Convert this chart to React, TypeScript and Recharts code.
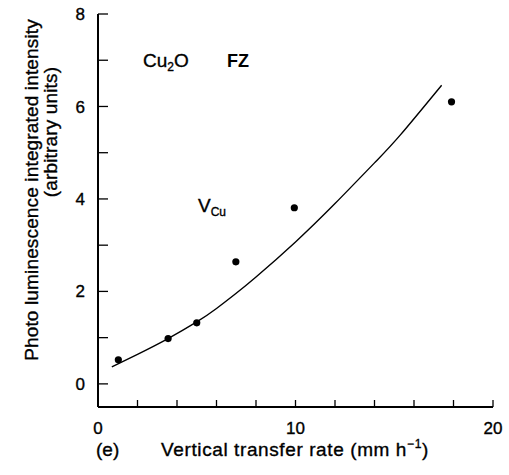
import { ComposedChart, Line, Scatter, XAxis, YAxis } from "recharts";

// fitted curve
const fitRate = [0.7, 2, 3.5, 5, 6, 7, 8, 10, 12, 14, 15.3, 17.4];
const fitIntensity = [0.37, 0.64, 0.97, 1.34, 1.63, 1.96, 2.31, 3.07, 3.9, 4.78, 5.38, 6.46];

// measured points
const measRate = [1.03, 3.55, 5.0, 6.98, 9.94, 17.9];
const measIntensity = [0.52, 0.98, 1.32, 2.64, 3.81, 6.1];

const xTicks = [0, 2, 4, 6, 8, 10, 12, 14, 16, 18, 20];
const xLabels = [0, 10, 20];
const yTicks = [0, 1, 2, 3, 4, 5, 6, 7, 8];
const yLabels = [0, 2, 4, 6, 8];

const fitData = fitRate.map((x, i) => ({ x, y: fitIntensity[i] }));
const measData = measRate.map((x, i) => ({ x, y: measIntensity[i] }));

const W = 509;
const H = 475;
const M = { top: 14, right: 16, bottom: 23, left: 0 };
const Y_AXIS_W = 98;
const X_AXIS_H = 45;

const FONT = "'Liberation Sans', Arial, sans-serif";
const tickStyle = { fontSize: 17, fill: "#000", stroke: "#000", strokeWidth: 0.35, fontFamily: FONT };
const tickLine = { stroke: "#000", strokeWidth: 1.3 };
const axisLine = { stroke: "#000", strokeWidth: 2 };
const heavy = { fill: "#000", stroke: "#000", strokeWidth: 0.35 };

export default function App() {
  return (
    <div style={{ position: "absolute", left: 0, top: 0, width: W, height: H, background: "#fff" }}>
      <ComposedChart width={W} height={H} margin={M}>
        <XAxis
          type="number"
          dataKey="x"
          domain={[0, 20]}
          ticks={xTicks}
          height={X_AXIS_H}
          tickSize={-7}
          tickMargin={22}
          tick={tickStyle}
          tickFormatter={(v) => (xLabels.includes(v) ? String(v) : "")}
          stroke="#000"
          axisLine={axisLine}
          tickLine={tickLine}
        />
        <XAxis
          xAxisId="top"
          orientation="top"
          type="number"
          domain={[0, 20]}
          ticks={xTicks}
          height={0}
          tickSize={-5}
          tick={false}
          stroke="#000"
          axisLine={axisLine}
          tickLine={tickLine}
        />
        <YAxis
          type="number"
          domain={[-0.5, 8]}
          ticks={yTicks}
          width={Y_AXIS_W}
          tickSize={-10}
          tickMargin={23}
          tick={tickStyle}
          tickFormatter={(v) => (yLabels.includes(v) ? String(v) : "")}
          stroke="#000"
          axisLine={axisLine}
          tickLine={tickLine}
        />
        <YAxis
          yAxisId="right"
          orientation="right"
          type="number"
          domain={[-0.5, 8]}
          ticks={yTicks}
          width={0}
          tickSize={-11}
          tick={false}
          stroke="#000"
          axisLine={axisLine}
          tickLine={tickLine}
        />
        <Line
          data={fitData}
          dataKey="y"
          type="natural"
          stroke="#000"
          strokeWidth={1.4}
          dot={false}
          activeDot={false}
          isAnimationActive={false}
        />
        <Scatter
          data={measData}
          dataKey="y"
          fill="#000"
          shape={(p: any) => <circle cx={p.cx} cy={p.cy} r={3.6} fill="#000" />}
          isAnimationActive={false}
        />
      </ComposedChart>
      <svg
        width={W}
        height={H}
        style={{ position: "absolute", left: 0, top: 0, pointerEvents: "none" }}
        fontFamily={FONT}
      >
        <text
          transform="translate(38,190) rotate(-90)"
          textAnchor="middle"
          fontSize={19}
          letterSpacing={0.15}
          {...heavy}
        >
          Photo luminescence integrated intensity
        </text>
        <text
          transform="translate(57,132) rotate(-90)"
          textAnchor="middle"
          fontSize={19}
          letterSpacing={0.15}
          {...heavy}
        >
          (arbitrary units)
        </text>
        <text x={96} y={456} fontSize={19} {...heavy}>(e)</text>
        <text x={295} y={456} textAnchor="middle" fontSize={19} letterSpacing={0.6} {...heavy}>
          Vertical transfer rate (mm h
          <tspan fontSize={12} dy={-8}>−1</tspan>
          <tspan dy={8}>)</tspan>
        </text>
        <text x={143} y={67} fontSize={19} {...heavy}>
          Cu<tspan fontSize={12} dy={4}>2</tspan>
          <tspan dy={-4}>O</tspan>
        </text>
        <text x={227} y={67} fontSize={18} fontWeight="bold" fill="#000">FZ</text>
        <text x={198} y={212} fontSize={19} {...heavy}>
          V<tspan fontSize={12} dy={4}>Cu</tspan>
        </text>
      </svg>
    </div>
  );
}
